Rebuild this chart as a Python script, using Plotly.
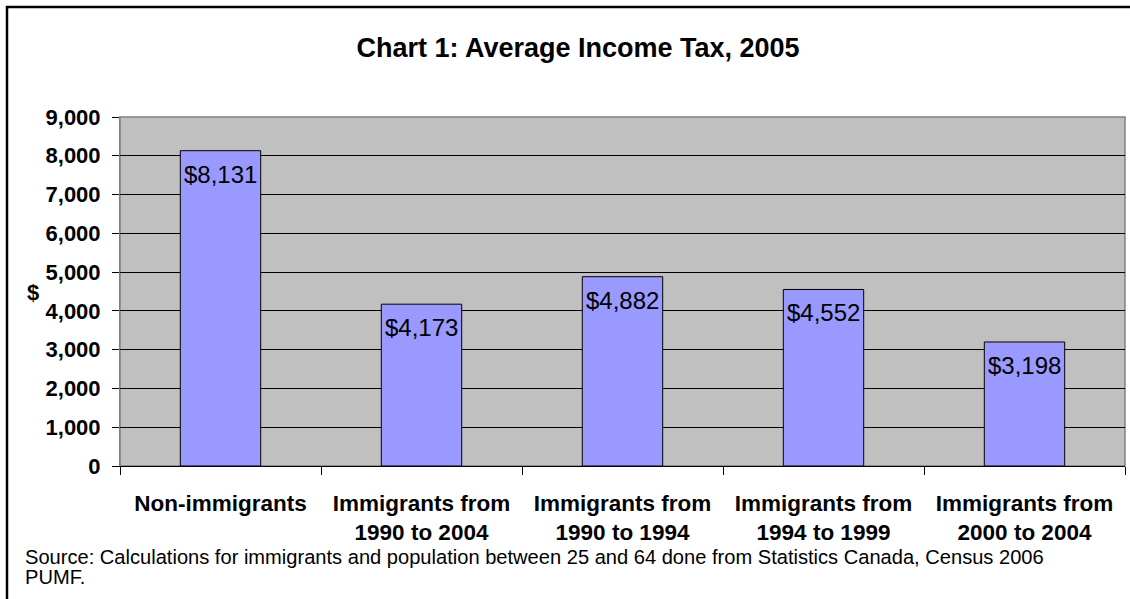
import plotly.graph_objects as go

categories = ["Non-immigrants", "Immigrants from<br>1990 to 2004", "Immigrants from<br>1990 to 1994",
              "Immigrants from<br>1994 to 1999", "Immigrants from<br>2000 to 2004"]
values = [8131, 4173, 4882, 4552, 3198]
value_labels = ["$8,131", "$4,173", "$4,882", "$4,552", "$3,198"]
y_ticks = [0, 1000, 2000, 3000, 4000, 5000, 6000, 7000, 8000, 9000]
y_tick_text = ["0", "1,000", "2,000", "3,000", "4,000", "5,000", "6,000", "7,000", "8,000", "9,000"]
source_lines = ["Source: Calculations for immigrants and population between 25 and 64 done from Statistics Canada, Census 2006",
                "PUMF."]

W, H = 1130, 599
L, R, T, B = 120, 1125, 117, 466
pw, ph = R - L, B - T

def px(x):
    return (x - L) / pw

def py(y):
    return (B - y) / ph

FONT = "Liberation Sans, Arial, sans-serif"

fig = go.Figure()
fig.add_trace(go.Bar(
    x=categories, y=values, width=0.4,
    marker=dict(color="#9999FF", line=dict(color="black", width=1)),
    hoverinfo="skip",
))

for c, v, t in zip(categories, values, value_labels):
    fig.add_annotation(x=c, y=v, text=t, showarrow=False, xref="x", yref="y",
                       yanchor="top", yshift=-8,
                       font=dict(family=FONT, size=24, color="black"))

for i, line in enumerate(source_lines):
    fig.add_annotation(xref="paper", yref="paper", x=px(23), y=py(557 + 20 * i), xanchor="left", yanchor="middle",
                       align="left", showarrow=False, text=line,
                       font=dict(family=FONT, size=20.1, color="black"))

# y axis title
fig.add_annotation(xref="paper", yref="paper", x=px(33), y=py(292), xanchor="center", yanchor="middle",
                   showarrow=False, text="<b>$</b>", font=dict(family=FONT, size=22, color="black"))

# outer frame
fig.add_shape(type="rect", xref="paper", yref="paper", x0=px(7), x1=px(1140), y0=py(610), y1=py(7),
              line=dict(color="black", width=2.5), layer="below")
# plot area border
fig.add_shape(type="rect", xref="paper", yref="paper", x0=0, x1=1, y0=0, y1=1,
              line=dict(color="#808080", width=1.5), layer="below")

fig.update_layout(
    width=W, height=H,
    margin=dict(l=L, r=W - R, t=T, b=H - B, pad=0),
    paper_bgcolor="white", plot_bgcolor="#C0C0C0",
    showlegend=False,
    bargap=0.6,
    title=dict(text="<b>Chart 1: Average Income Tax, 2005</b>", xref="container", yref="container",
               x=578 / W, y=1 - 48 / H, xanchor="center", yanchor="middle",
               font=dict(family=FONT, size=27, color="black")),
    font=dict(family=FONT, color="black"),
)

fig.update_xaxes(
    type="category", range=[-0.5, 4.5],
    showline=True, linecolor="black", linewidth=1,
    ticks="outside", tickson="boundaries", ticklen=8, tickcolor="black", tickwidth=1,
    tickfont=dict(family=FONT, size=22.5, color="black"),
    tickprefix="<b>", ticksuffix="</b>",
    showgrid=False, ticklabelstandoff=17,
)
fig.update_yaxes(
    range=[0, 9000], tickvals=y_ticks, ticktext=["<b>" + t + "</b>" for t in y_tick_text],
    showline=True, linecolor="#808080", linewidth=1,
    ticks="outside", ticklen=7, tickcolor="black", tickwidth=1,
    tickfont=dict(family=FONT, size=22, color="black"),
    showgrid=True, gridcolor="black", gridwidth=1,
    zeroline=False, ticklabelstandoff=7,
)

fig.write_html("out.html", config={"displayModeBar": False},
               post_script="document.body.style.margin='0';")
